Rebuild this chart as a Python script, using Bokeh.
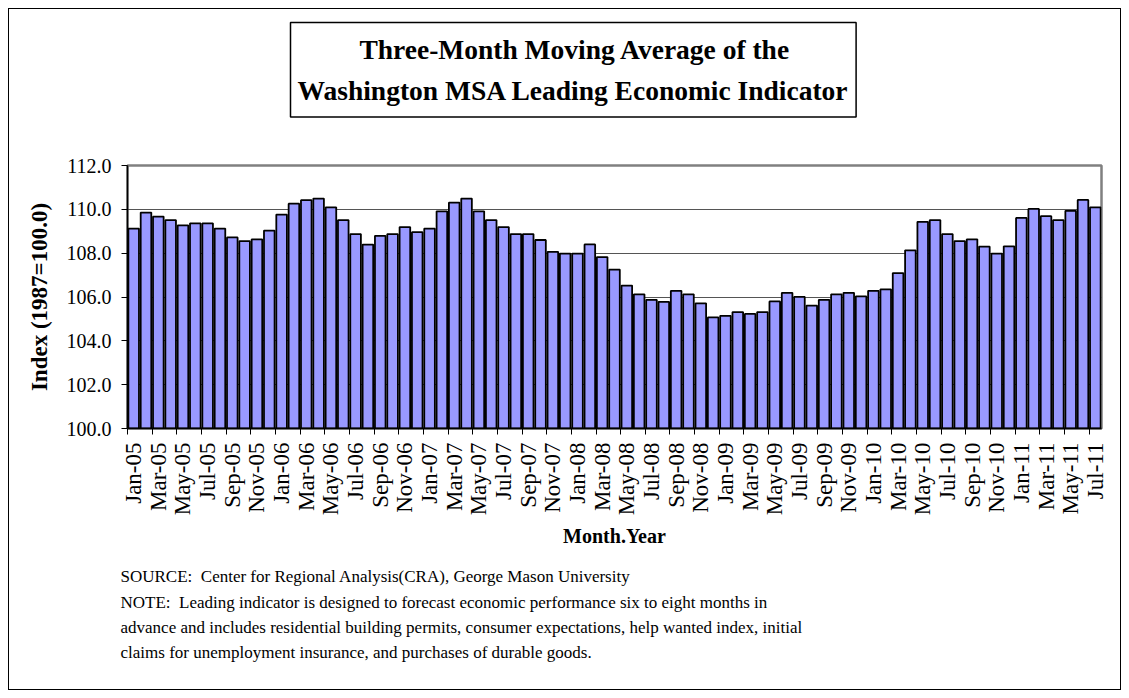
import math
from bokeh.plotting import figure
from bokeh.models import Range1d, FixedTicker, SingleIntervalTicker, NumeralTickFormatter, ColumnDataSource, Title
from bokeh.embed import file_html
from bokeh.resources import INLINE

# ---------------- data ----------------
years = ["05", "06", "07", "08", "09", "10", "11"]
month_abbr = ["Jan", "Feb", "Mar", "Apr", "May", "Jun", "Jul", "Aug", "Sep", "Oct", "Nov", "Dec"]
months = [f"{m}-{y}" for y in years for m in month_abbr][:79]   # Jan-05 .. Jul-11

index_values = [
    109.12, 109.85, 109.67, 109.51, 109.27, 109.36, 109.36, 109.12, 108.72, 108.55, 108.63, 109.03,  # 2005
    109.76, 110.26, 110.42, 110.49, 110.09, 109.51, 108.87, 108.39, 108.79, 108.87, 109.19, 108.96,  # 2006
    109.12, 109.91, 110.31, 110.49, 109.91, 109.51, 109.19, 108.87, 108.87, 108.60, 108.06, 107.98,  # 2007
    107.98, 108.40, 107.82, 107.25, 106.52, 106.12, 105.87, 105.78, 106.28, 106.12, 105.71, 105.07,  # 2008
    105.14, 105.31, 105.23, 105.31, 105.80, 106.19, 106.01, 105.61, 105.87, 106.12, 106.19, 106.03,  # 2009
    106.28, 106.35, 107.09, 108.13, 109.43, 109.51, 108.87, 108.55, 108.63, 108.30, 107.98, 108.31,  # 2010
    109.61, 110.02, 109.69, 109.51, 109.93, 110.43, 110.09,                                          # 2011
]

y_min, y_max, y_step = 100, 112, 2
label_every = 2

title_line1 = "Three-Month Moving Average of the"
title_line2 = "Washington MSA Leading Economic Indicator"
y_label = "Index (1987=100.0)"
x_label = "Month.Year"
note_lines = [
    "SOURCE:\u00a0 Center for Regional Analysis(CRA), George Mason University",
    "NOTE:\u00a0 Leading indicator is designed to forecast economic performance six to eight months in",
    "advance and includes residential building permits, consumer expectations, help wanted index, initial",
    "claims for unemployment insurance, and purchases of durable goods.",
]

FONT = "Liberation Serif"

# ---------------- figure ----------------
n = len(months)
positions = list(range(n))
source = ColumnDataSource(dict(x=positions, month=months, top=index_values))

p = figure(
    width=1113, height=682,
    output_backend="svg", toolbar_location=None,
    x_range=Range1d(-0.5, n - 0.5), y_range=Range1d(y_min, y_max),
    min_border_left=118, min_border_right=21, min_border_top=156, min_border_bottom=263,
    background_fill_color="white", border_fill_color="white",
)
p.styles = {"margin": "8px 0px 0px 8px", "border": "1px solid black"}
p.outline_line_color = "#808080"
p.outline_line_width = 2.5

p.vbar(x="x", top="top", bottom=y_min, width=0.86, source=source,
       fill_color="#9999FF", line_color="black", line_width=1.8)

# x axis: labels on every other month, ticks on category boundaries
lab_pos = positions[::label_every]
xa = p.xaxis[0]
xa.ticker = FixedTicker(ticks=lab_pos, minor_ticks=[i - 0.5 for i in lab_pos])
xa.major_label_overrides = {i: months[i] for i in lab_pos}
xa.major_label_orientation = math.pi / 2
xa.major_tick_out = 0
xa.major_tick_in = 0
xa.minor_tick_out = 6
xa.minor_tick_in = 0
xa.minor_tick_line_color = "black"
xa.minor_tick_line_width = 1
xa.axis_line_color = "black"
xa.axis_line_width = 1.5
xa.major_label_standoff = 8
xa.major_label_text_font = FONT
xa.major_label_text_font_size = "23px"
xa.major_label_text_color = "black"
xa.axis_label = x_label
xa.axis_label_text_font = FONT
xa.axis_label_text_font_style = "bold"
xa.axis_label_text_font_size = "20px"
xa.axis_label_text_color = "black"
xa.axis_label_standoff = 7

ya = p.yaxis[0]
ya.ticker = SingleIntervalTicker(interval=y_step, num_minor_ticks=0)
ya.formatter = NumeralTickFormatter(format="0.0")
ya.major_tick_out = 6
ya.major_tick_in = 0
ya.major_tick_line_color = "black"
ya.minor_tick_out = 0
ya.minor_tick_in = 0
ya.axis_line_color = "black"
ya.axis_line_width = 1.5
ya.major_label_standoff = 10
ya.major_label_text_font = FONT
ya.major_label_text_font_size = "20px"
ya.major_label_text_color = "black"
ya.axis_label = y_label
ya.axis_label_text_font = FONT
ya.axis_label_text_font_style = "bold"
ya.axis_label_text_font_size = "23px"
ya.axis_label_text_color = "black"
ya.axis_label_standoff = 12

p.xgrid.grid_line_color = None
p.ygrid.grid_line_color = "#555555"
p.ygrid.grid_line_width = 1

# spacer between frame and title box
p.add_layout(Title(text=" ", text_font_size="1px", standoff=30), "above")

# title box (two centred lines inside one bordered box)
pad = "\u00a0" * 9
try:
    title_pad = dict(left=7, right=7, top=11, bottom=11)
    t = Title(text=pad + title_line1 + "\n" + title_line2, padding=title_pad)
except Exception:
    t = Title(text=pad + title_line1 + "\n" + title_line2, padding=9)
t.update(align="left", offset=163, standoff=26, vertical_align="top",
         text_font=FONT, text_font_style="bold", text_font_size="27.5px",
         text_line_height=1.34, text_color="black",
         border_line_color="black", border_line_width=1.5,
         background_fill_color="white")
p.add_layout(t, "above")

# source / note block below the x axis
p.add_layout(Title(
    text="\n".join(note_lines),
    align="left", offset=-7, standoff=30,
    text_font=FONT, text_font_style="normal", text_font_size="17px",
    text_line_height=1.34, text_color="black",
), "below")

open("out.html", "w").write(file_html(p, INLINE))
